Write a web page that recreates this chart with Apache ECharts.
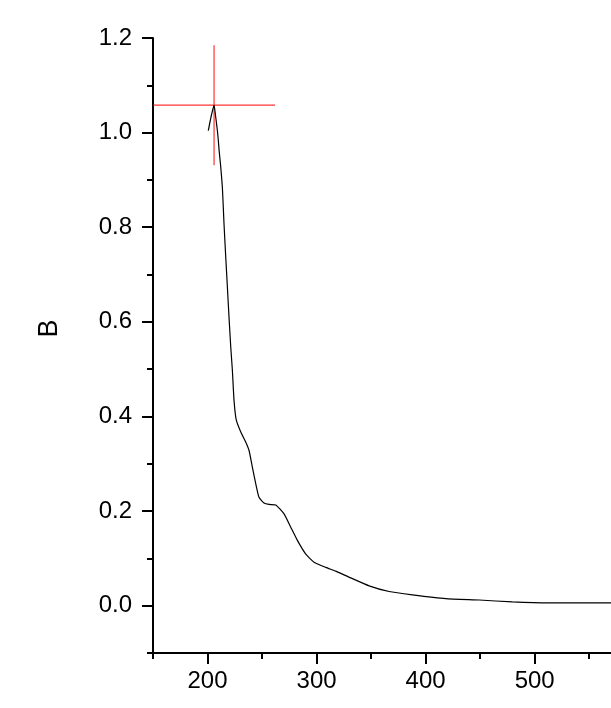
<!DOCTYPE html>
<html>
<head>
<meta charset="utf-8">
<script src="https://cdn.jsdelivr.net/npm/echarts@6/dist/echarts.min.js"></script>
<style>
html,body{margin:0;padding:0;background:#fff;}
#chart{width:611px;height:708px;}
</style>
</head>
<body>
<div id="chart"></div>
<script>
// Data
var wavelength = [200.7, 203.2, 206.0, 207.5, 209.0, 209.9, 210.6, 212.1, 213.6, 214.5, 215.1, 216.7, 218.2, 219.7, 221.3, 222.8, 224.3, 226.4, 230.5, 235.0, 238.1, 241.1, 244.2, 247.2, 251.8, 256.4, 262.6, 270.2, 276.3, 282.4, 290.1, 297.7, 308.4, 317.6, 329.2, 348.2, 366.5, 387.9, 418.5, 449.1, 479.6, 513.3, 570.0];
var absorbance = [1.004, 1.033, 1.058, 1.033, 1.005, 0.984, 0.963, 0.928, 0.885, 0.840, 0.808, 0.737, 0.674, 0.610, 0.547, 0.497, 0.434, 0.392, 0.367, 0.346, 0.328, 0.293, 0.258, 0.229, 0.217, 0.214, 0.213, 0.194, 0.166, 0.138, 0.109, 0.092, 0.081, 0.073, 0.061, 0.042, 0.030, 0.023, 0.015, 0.012, 0.008, 0.006, 0.006];
var xMajorTicks = [200, 300, 400, 500];
var xMinorTicks = [150, 250, 350, 450, 550];
var yMajorTicks = [0.0, 0.2, 0.4, 0.6, 0.8, 1.0, 1.2];
var yMinorTicks = [-0.1, 0.1, 0.3, 0.5, 0.7, 0.9, 1.1];
var yAxisName = 'B';

var curve = wavelength.map(function (w, i) { return [w, absorbance[i]]; });
var peakIdx = 0;
absorbance.forEach(function (v, i) { if (v > absorbance[peakIdx]) peakIdx = i; });
var peak = [wavelength[peakIdx], absorbance[peakIdx]];

var FONT = 'Liberation Sans, Arial, sans-serif';
var chart = echarts.init(document.getElementById('chart'), null, {renderer: 'canvas'});
chart.setOption({
  animation: false,
  backgroundColor: '#fff',
  grid: {left: 153, right: 0, top: 38, bottom: 55, containLabel: false},
  xAxis: [{
    type: 'value', min: 150, max: 570,
    axisLine: {show: true, onZero: false, lineStyle: {color: '#000', width: 2}},
    axisTick: {show: true, inside: false, length: 11, lineStyle: {color: '#000', width: 2}, customValues: xMajorTicks},
    axisLabel: {show: true, customValues: xMajorTicks, margin: 16, color: '#000', fontSize: 24, fontFamily: FONT},
    splitLine: {show: false}
  }, {
    type: 'value', min: 150, max: 570, position: 'bottom',
    axisLine: {show: false, onZero: false},
    axisTick: {show: true, length: 6, lineStyle: {color: '#000', width: 2}, customValues: xMinorTicks},
    axisLabel: {show: false},
    splitLine: {show: false}
  }],
  yAxis: [{
    type: 'value', min: -0.1, max: 1.2,
    name: yAxisName, nameLocation: 'middle', nameGap: 90, nameRotate: 90,
    nameTextStyle: {color: '#000', fontSize: 27, fontFamily: FONT, padding: [0, 0, 0, 34]},
    axisLine: {show: true, onZero: false, lineStyle: {color: '#000', width: 2}},
    axisTick: {show: true, length: 11, lineStyle: {color: '#000', width: 2}, customValues: yMajorTicks},
    axisLabel: {show: true, customValues: yMajorTicks, margin: 21, color: '#000', fontSize: 24, fontFamily: FONT,
      formatter: function (v) { return v.toFixed(1); }},
    splitLine: {show: false}
  }, {
    type: 'value', min: -0.1, max: 1.2, position: 'left',
    axisLine: {show: false, onZero: false},
    axisTick: {show: true, length: 6, lineStyle: {color: '#000', width: 2}, customValues: yMinorTicks},
    axisLabel: {show: false},
    splitLine: {show: false}
  }],
  series: [{
    type: 'line', data: curve, xAxisIndex: 0, yAxisIndex: 0,
    showSymbol: false, symbol: 'none', smooth: 0.15,
    lineStyle: {color: '#000', width: 1.2}
  }, {
    type: 'scatter', data: [peak], xAxisIndex: 0, yAxisIndex: 0,
    symbol: 'path://M0,60L122,60M61,0L61,120', symbolSize: [122, 120],
    itemStyle: {color: 'rgba(0,0,0,0)', borderColor: '#ff0000', borderWidth: 1.2},
    silent: true
  }]
});
</script>
</body>
</html>
